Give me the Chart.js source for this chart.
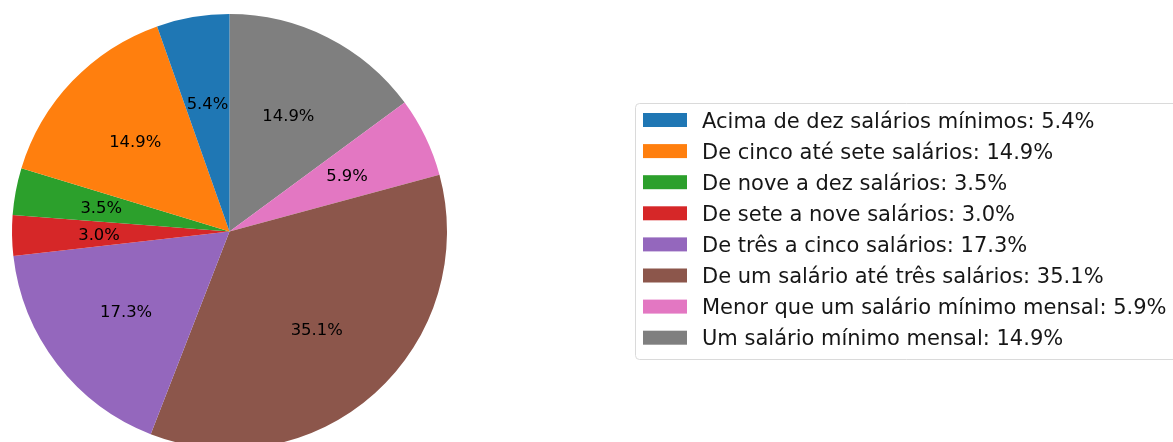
<!DOCTYPE html>
<html lang="pt">
<head>
<meta charset="utf-8">
<title>Faixa salarial</title>
<script src="https://cdn.jsdelivr.net/npm/chart.js@4/dist/chart.umd.min.js"></script>
<style>
  html, body { margin: 0; padding: 0; background: #ffffff; overflow: hidden; }
  #wrap { width: 1173px; height: 442px; overflow: hidden; position: relative; }
  canvas { display: block; }
</style>
</head>
<body>
<div id="wrap"><canvas id="pie" width="1173" height="460"></canvas></div>
<script>
// Faixas salariais (ordem da legenda)
const categories = [
  'Acima de dez salários mínimos',
  'De cinco até sete salários',
  'De nove a dez salários',
  'De sete a nove salários',
  'De três a cinco salários',
  'De um salário até três salários',
  'Menor que um salário mínimo mensal',
  'Um salário mínimo mensal'
];
const shares = [5.4, 14.9, 3.5, 3.0, 17.3, 35.1, 5.9, 14.9];
const colors = ['#1f77b4', '#ff7f0e', '#2ca02c', '#d62728', '#9467bd', '#8c564b', '#e377c2', '#7f7f7f'];

const FONT = '"DejaVu Sans", "Liberation Sans", sans-serif';

// As fatias seguem no sentido anti-horário a partir do topo:
// o Chart.js desenha no sentido horário, então a série vai invertida.
const order = categories.map((_, i) => i).reverse();

// Rótulos de porcentagem a 60% do raio, no ângulo médio de cada fatia
const pctLabels = {
  id: 'pctLabels',
  afterDatasetsDraw(chart) {
    const ctx = chart.ctx;
    const meta = chart.getDatasetMeta(0);
    const ds = chart.data.datasets[0];
    ctx.save();
    ctx.font = '16.4px ' + FONT;
    ctx.fillStyle = '#000000';
    ctx.textAlign = 'center';
    ctx.textBaseline = 'alphabetic';
    meta.data.forEach((arc, i) => {
      const p = arc.getProps(['x', 'y', 'startAngle', 'endAngle', 'outerRadius'], true);
      const mid = (p.startAngle + p.endAngle) / 2;
      const r = p.outerRadius * 0.6;
      const x = p.x + Math.cos(mid) * r;
      const y = p.y + Math.sin(mid) * r;
      ctx.fillText(ds.data[i].toFixed(1) + '%', x, y + 16.4 * 0.365);
    });
    ctx.restore();
  }
};

// Legenda com moldura à direita do gráfico (a moldura passa da borda direita)
const sideLegend = {
  id: 'sideLegend',
  afterDraw(chart) {
    const ctx = chart.ctx;
    const box = { x: 635.5, y: 103.5, w: 560, h: 256, r: 4 };
    ctx.save();
    ctx.beginPath();
    ctx.moveTo(box.x + box.r, box.y);
    ctx.lineTo(box.x + box.w - box.r, box.y);
    ctx.arcTo(box.x + box.w, box.y, box.x + box.w, box.y + box.r, box.r);
    ctx.lineTo(box.x + box.w, box.y + box.h - box.r);
    ctx.arcTo(box.x + box.w, box.y + box.h, box.x + box.w - box.r, box.y + box.h, box.r);
    ctx.lineTo(box.x + box.r, box.y + box.h);
    ctx.arcTo(box.x, box.y + box.h, box.x, box.y + box.h - box.r, box.r);
    ctx.lineTo(box.x, box.y + box.r);
    ctx.arcTo(box.x, box.y, box.x + box.r, box.y, box.r);
    ctx.closePath();
    ctx.fillStyle = 'rgba(255,255,255,0.8)';
    ctx.fill();
    ctx.strokeStyle = '#dadada';
    ctx.lineWidth = 1;
    ctx.stroke();

    const fs = 21;
    ctx.font = fs + 'px ' + FONT;
    ctx.textAlign = 'left';
    ctx.textBaseline = 'alphabetic';
    categories.forEach((name, i) => {
      const cy = 120 + i * 31.1;
      ctx.fillStyle = colors[i];
      ctx.fillRect(643, cy - 7, 44, 14);
      ctx.fillStyle = '#161616';
      ctx.fillText(name + ': ' + shares[i].toFixed(1) + '%', 702, cy + fs * 0.365);
    });
    ctx.restore();
  }
};

new Chart(document.getElementById('pie'), {
  type: 'pie',
  data: {
    labels: order.map(i => categories[i]),
    datasets: [{
      data: order.map(i => shares[i]),
      backgroundColor: order.map(i => colors[i]),
      borderWidth: 0
    }]
  },
  options: {
    responsive: false,
    animation: false,
    devicePixelRatio: 1,
    rotation: 0,
    layout: { padding: { left: 12, top: 14, right: 726, bottom: 11 } },
    plugins: {
      legend: { display: false },
      tooltip: { enabled: false }
    }
  },
  plugins: [pctLabels, sideLegend]
});
</script>
</body>
</html>
